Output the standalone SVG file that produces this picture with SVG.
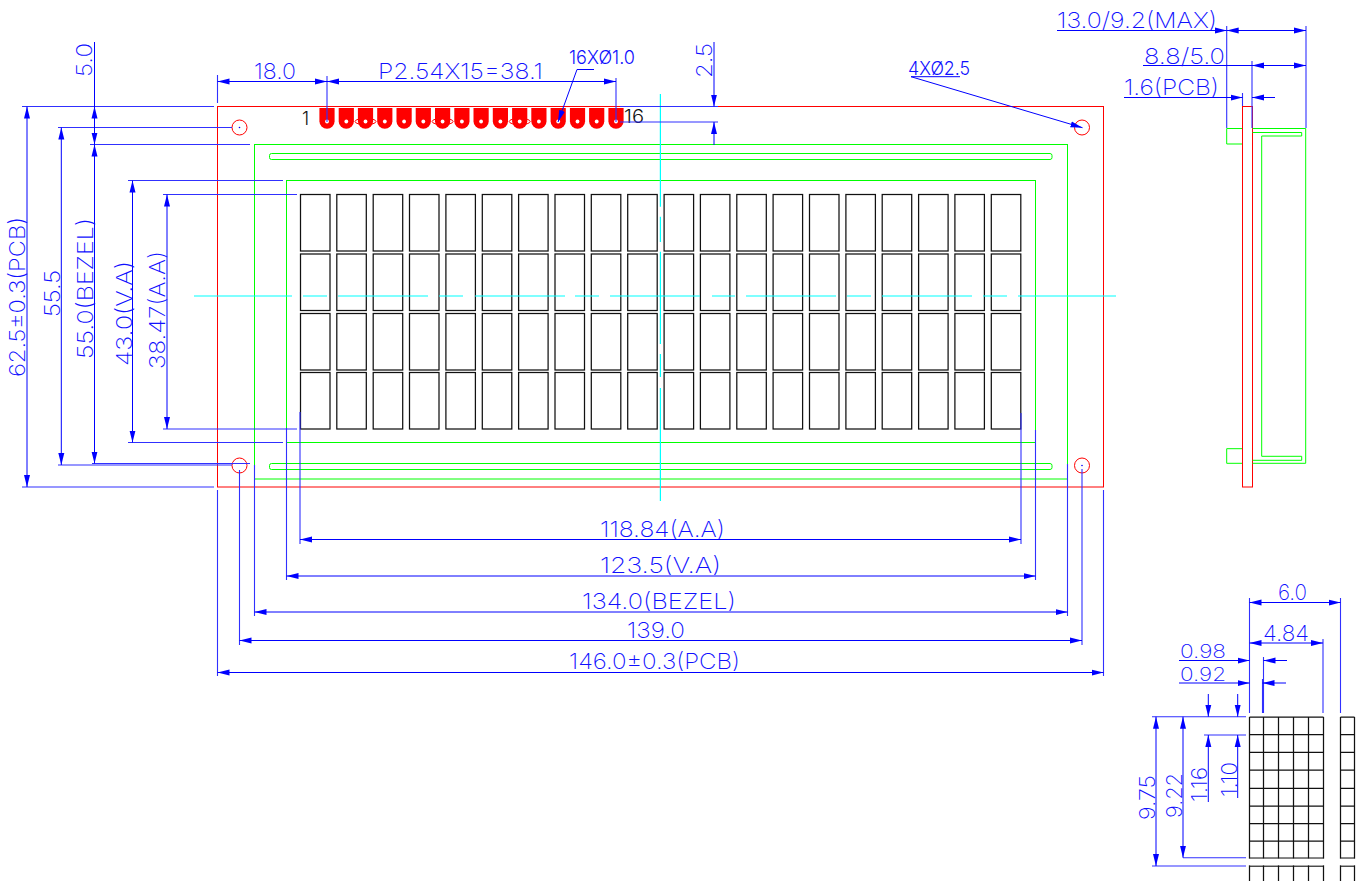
<svg xmlns="http://www.w3.org/2000/svg" width="1365" height="881" viewBox="0 0 1365 881">
<style>
.d{stroke:#0000ff;stroke-width:1;fill:none}
.e{stroke:#3030ff;stroke-width:1.1;fill:none}
.a{marker-start:url(#as);marker-end:url(#ae)}
.b{marker-end:url(#ae)}
.r{stroke:#ff0000;stroke-width:1;fill:none}
.g{stroke:#00ff00;stroke-width:1;fill:none}
.c{stroke:#00ffff;stroke-width:1.2;fill:none}
.k{stroke:#111;stroke-width:1.25;fill:none}
text{font-family:"Inter","Liberation Sans",sans-serif;font-weight:200;font-size:22px;fill:#1010ff}
.s{font-size:18.5px;font-weight:300}
.t{font-size:19px}
.n{font-size:18px;fill:#111;font-weight:300}
</style>
<defs>
<marker id="ae" markerUnits="userSpaceOnUse" markerWidth="14" markerHeight="8" refX="12" refY="4" orient="auto"><path d="M0,1L12,4L0,7Z" fill="#0000ff"/></marker>
<marker id="as" markerUnits="userSpaceOnUse" markerWidth="14" markerHeight="8" refX="12" refY="4" orient="auto-start-reverse"><path d="M0,1L12,4L0,7Z" fill="#0000ff"/></marker>
<g id="pin"><path d="M-7.6,0H7.6V13.2A7.6,7.6 0 0 1 -7.6,13.2Z" fill="#ff0000"/><circle cx="0" cy="13.5" r="1.9" fill="#fff"/></g>
<g id="row">
<rect x="300.5" width="29.5" height="56.5"/><rect x="336.8" width="29.5" height="56.5"/><rect x="373.2" width="29.5" height="56.5"/><rect x="409.5" width="29.5" height="56.5"/><rect x="445.9" width="29.5" height="56.5"/><rect x="482.3" width="29.5" height="56.5"/><rect x="518.6" width="29.5" height="56.5"/><rect x="555" width="29.5" height="56.5"/><rect x="591.3" width="29.5" height="56.5"/><rect x="627.7" width="29.5" height="56.5"/><rect x="664.1" width="29.5" height="56.5"/><rect x="700.4" width="29.5" height="56.5"/><rect x="736.8" width="29.5" height="56.5"/><rect x="773.1" width="29.5" height="56.5"/><rect x="809.5" width="29.5" height="56.5"/><rect x="845.9" width="29.5" height="56.5"/><rect x="882.2" width="29.5" height="56.5"/><rect x="918.6" width="29.5" height="56.5"/><rect x="954.9" width="29.5" height="56.5"/><rect x="991.3" width="29.5" height="56.5"/>
</g>
</defs>
<rect width="1365" height="881" fill="#fff"/>
<g id="pcb-front"><rect class="r" x="217.5" y="106.5" width="886" height="380.5"/>
<circle class="r" cx="239.5" cy="127.5" r="7.5"/><circle class="r" cx="1082" cy="127.5" r="7.5"/><circle class="r" cx="239.5" cy="465.5" r="7.5"/><circle class="r" cx="1082" cy="465.5" r="7.5"/>
<circle cx="239.5" cy="127.5" r="0.8" fill="#0000ff"/><circle cx="1082" cy="465.5" r="0.8" fill="#0000ff"/></g>
<g id="pins">
<use href="#pin" x="327" y="108"/><use href="#pin" x="346.3" y="108"/><use href="#pin" x="365.5" y="108"/><use href="#pin" x="384.8" y="108"/><use href="#pin" x="404.1" y="108"/><use href="#pin" x="423.3" y="108"/><use href="#pin" x="442.6" y="108"/><use href="#pin" x="461.9" y="108"/><use href="#pin" x="481.1" y="108"/><use href="#pin" x="500.4" y="108"/><use href="#pin" x="519.7" y="108"/><use href="#pin" x="538.9" y="108"/><use href="#pin" x="558.2" y="108"/><use href="#pin" x="577.5" y="108"/><use href="#pin" x="596.7" y="108"/><use href="#pin" x="616" y="108"/>
<ellipse class="r" cx="365.5" cy="121.5" rx="10.5" ry="3.2"/><ellipse class="r" cx="442.6" cy="121.5" rx="10.5" ry="3.2"/><ellipse class="r" cx="519.7" cy="121.5" rx="10.5" ry="3.2"/>
<text class="n" x="302" y="125">1</text><text class="n" x="624" y="123" textLength="20" lengthAdjust="spacingAndGlyphs">16</text></g>
<g id="bezel"><rect class="g" x="254.5" y="144.5" width="813" height="334.5"/>
<rect class="g" x="269.5" y="153.5" width="782.5" height="6" rx="2"/><rect class="g" x="269.5" y="463.5" width="782.5" height="6" rx="2"/></g>
<g id="viewing-area"><rect class="g" x="286.5" y="180.5" width="749" height="262"/></g>
<g id="active-area" class="k">
<use href="#row" y="194.5"/><use href="#row" y="254"/><use href="#row" y="313.5"/><use href="#row" y="372.5"/>
</g>
<g id="center-lines">
<path class="c" d="M194,296H292M303,296H327M338,296H428M439,296H463M475,296H565M575,296H599M610,296H700M712,296H735M746,296H836M847,296H871M882,296H972M983,296H1007M1018,296H1116"/>
<path class="c" d="M660.4,94V206.7M660.4,216.7V242M660.4,251.7V344M660.4,354V377M660.4,388V501"/>
</g>
<g id="side-view">
<rect class="r" x="1242.5" y="106.5" width="10" height="380.5"/>
<path class="g" d="M1242,128.5H1226.7V144H1242M1252.5,128.5H1305.7V463.3H1252.5M1252.5,132.5H1301.7V136H1261.7V456.3H1301.7V460.3H1252.5M1242,448.7H1226.7V463.3H1242"/>
</g>
<g id="pixel-detail" class="k">
<path d="M1249.5,717V881M1263.5,717V881M1278.5,717V881M1293.5,717V881M1308.5,717V881M1323.5,717V881M1340.5,717V881M1354.5,717V881"/>
<path d="M1249.5,717H1323.5M1249.5,734.7H1323.5M1249.5,752.3H1323.5M1249.5,770H1323.5M1249.5,788.3H1323.5M1249.5,806H1323.5M1249.5,823.5H1323.5M1249.5,841H1323.5M1249.5,858H1323.5M1249.5,866H1323.5"/>
<path d="M1340.5,717H1354.5M1340.5,734.7H1354.5M1340.5,752.3H1354.5M1340.5,770H1354.5M1340.5,788.3H1354.5M1340.5,806H1354.5M1340.5,823.5H1354.5M1340.5,841H1354.5M1340.5,858H1354.5M1340.5,866H1354.5"/>
<rect x="1240" y="858.7" width="125" height="6.6" fill="#fff" stroke="none"/>
</g>
<g id="connectors">
<path class="e" d="M217.5,75V103M327,76V122M616,78V122M22,106.5H214M22,487H214M58,127.5H232M58,465H232M90,144.5H250M92,463.5H250M128,180.5H283M128,442.5H283M163,194.5H297M163,429H297M300,412V544M1021,413V544M286.5,428V580M1035.5,430V580M254.5,465V616M1067.5,464V616M239.5,470V645M1082,469V645M217.5,490V676M1103.5,490V676M620,106.5H718M620,122H718M1226.7,26V128M1306,26V128M1252,61V128M1242.5,93V106M1249.5,598V713M1340.5,598V713M1323,639V713M1263.5,657V713M1262.5,679V713M1152,716.7H1246M1204,735H1246M1183,857.7H1246M1152,866H1246"/>
<path class="d a" d="M217.5,81.5H327"/><path class="d a" d="M327,81.5H616"/>
<path class="d a" d="M27,106.5V487"/><path class="d a" d="M61.3,127.5V465"/><path class="d a" d="M94.5,144.5V463.5"/><path class="d a" d="M132.5,180.5V442.5"/><path class="d a" d="M167,194.5V429"/>
<path class="d b" d="M94.5,42V144.5"/><path class="d b" d="M94.5,144.5V106.5"/>
<path class="d b" d="M714,42V106.5"/><path class="d b" d="M714,145V122"/>
<path class="d a" d="M300,539.5H1021"/><path class="d a" d="M286.5,576H1035.5"/><path class="d a" d="M254.5,612H1067.5"/><path class="d a" d="M239.5,640.5H1082"/><path class="d a" d="M217.5,672.5H1103.5"/>
<path class="d b" d="M1057,30.5H1226.7"/><path class="d a" d="M1226.7,30.5H1306"/>
<path class="d a" d="M1252,65.5H1306"/><path class="d" d="M1143,65.5H1252"/>
<path class="d b" d="M1124,97.5H1242.5"/><path class="d b" d="M1275,97.5H1252"/>
<path class="d a" d="M1249.5,602.5H1340.5"/><path class="d a" d="M1249.5,643H1323"/>
<path class="d b" d="M1179,660.5H1249.5"/><path class="d b" d="M1287,660.5H1263.5"/>
<path class="d b" d="M1179,683H1249.5"/><path class="d b" d="M1286,683H1262.5"/>
<path class="d b" d="M1208.3,694V716.7"/><path class="d b" d="M1237.7,694V716.7"/>
<path class="d b" d="M1208.3,802V735"/><path class="d b" d="M1237.7,798V735"/>
<path class="d a" d="M1156,716.7V866"/><path class="d a" d="M1183,716.7V857.7"/>
<path class="d b" d="M594,69.5H577L558,122"/>
<path class="d b" d="M960,76.7H911L1082.5,127.7"/>
</g>
<g id="labels">
<text x="254" y="79" textLength="42" lengthAdjust="spacingAndGlyphs">18.0</text>
<text x="378" y="79" textLength="165" lengthAdjust="spacingAndGlyphs">P2.54X15=38.1</text>
<text class="s" x="569" y="64" textLength="66" lengthAdjust="spacingAndGlyphs">16XØ1.0</text>
<text class="s" x="908" y="75" textLength="62" lengthAdjust="spacingAndGlyphs">4XØ2.5</text>
<text x="600" y="537" textLength="125" lengthAdjust="spacingAndGlyphs">118.84(A.A)</text>
<text x="600" y="573" textLength="121" lengthAdjust="spacingAndGlyphs">123.5(V.A)</text>
<text x="582" y="609" textLength="154" lengthAdjust="spacingAndGlyphs">134.0(BEZEL)</text>
<text x="627" y="638" textLength="58" lengthAdjust="spacingAndGlyphs">139.0</text>
<text x="569" y="669" textLength="171" lengthAdjust="spacingAndGlyphs">146.0±0.3(PCB)</text>
<text x="1057" y="28" textLength="160" lengthAdjust="spacingAndGlyphs">13.0/9.2(MAX)</text>
<text x="1144" y="64" textLength="81" lengthAdjust="spacingAndGlyphs">8.8/5.0</text>
<text x="1124" y="95" textLength="95" lengthAdjust="spacingAndGlyphs">1.6(PCB)</text>
<text x="1278" y="600" textLength="29" lengthAdjust="spacingAndGlyphs">6.0</text>
<text x="1263" y="641" textLength="46" lengthAdjust="spacingAndGlyphs">4.84</text>
<text class="t" x="1180" y="657.5" textLength="46" lengthAdjust="spacingAndGlyphs">0.98</text>
<text class="t" x="1180" y="681" textLength="46" lengthAdjust="spacingAndGlyphs">0.92</text>
<text transform="translate(92,77) rotate(-90)" textLength="34" lengthAdjust="spacingAndGlyphs">5.0</text>
<text transform="translate(712,78) rotate(-90)" textLength="35" lengthAdjust="spacingAndGlyphs">2.5</text>
<text transform="translate(25,377) rotate(-90)" textLength="160" lengthAdjust="spacingAndGlyphs">62.5±0.3(PCB)</text>
<text transform="translate(60,317) rotate(-90)" textLength="47" lengthAdjust="spacingAndGlyphs">55.5</text>
<text transform="translate(93,359) rotate(-90)" textLength="141" lengthAdjust="spacingAndGlyphs">55.0(BEZEL)</text>
<text transform="translate(132,366) rotate(-90)" textLength="105" lengthAdjust="spacingAndGlyphs">43.0(V.A)</text>
<text transform="translate(165,369) rotate(-90)" textLength="118" lengthAdjust="spacingAndGlyphs">38.47(A.A)</text>
<text transform="translate(1155,820) rotate(-90)" textLength="45" lengthAdjust="spacingAndGlyphs">9.75</text>
<text transform="translate(1182,818) rotate(-90)" textLength="45" lengthAdjust="spacingAndGlyphs">9.22</text>
<text transform="translate(1207,802) rotate(-90)" textLength="35" lengthAdjust="spacingAndGlyphs">1.16</text>
<text transform="translate(1237,797) rotate(-90)" textLength="35" lengthAdjust="spacingAndGlyphs">1.10</text>
</g>
</svg>
